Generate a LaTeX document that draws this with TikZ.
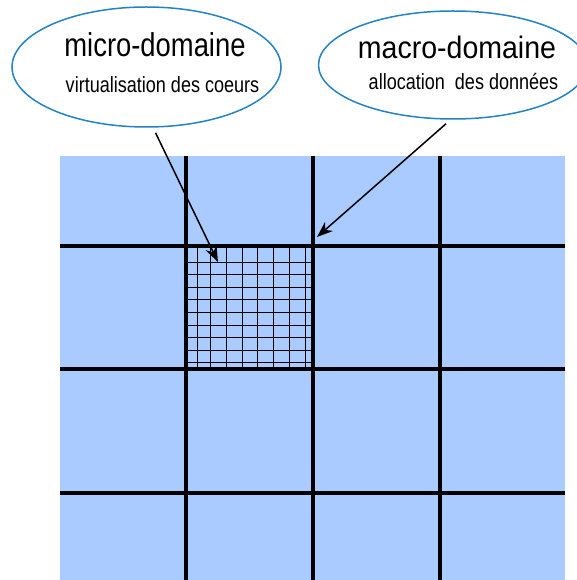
\documentclass[tikz,border=0pt]{standalone}
\usepackage{fontspec}
\setmainfont{Liberation Sans}
\newfontfamily\microfont[FakeStretch=0.83]{Liberation Sans}
\newfontfamily\macrofont[FakeStretch=0.92]{Liberation Sans}
\newfontfamily\notefont[FakeStretch=0.82]{Liberation Sans}
\usetikzlibrary{arrows.meta, positioning, shapes.geometric}
\definecolor{cplane}{HTML}{AACBFF}
\definecolor{cedge}{HTML}{2383C6}
\tikzset{
  every picture/.style={x=1pt, y=-1pt},
  bubble/.style={draw=cedge, line width=1.5pt, ellipse, inner sep=0pt},
  heading/.style={anchor=base, inner sep=0pt, font=#1},
  note/.style={anchor=base, inner sep=0pt, font=\notefont\fontsize{22}{22}\selectfont},
  bigline/.style={line width=3.5pt},
  fineline/.style={line width=0.8pt},
  arrow/.style={-{Stealth[length=16pt, width=12pt]}, line width=1.5pt},
}

\begin{document}
\begin{tikzpicture}
  \useasboundingbox (0,0) rectangle (577,580);
  % blue plane
  \fill[cplane] (60,156) rectangle (565,580);
  % fine grid in one cell
  \foreach \x in {197,210,226,242,257,273,289,305} \draw[fineline] (\x,246) -- (\x,369);
  \foreach \y in {262,274,287,299,312,325,337,350,362} \draw[fineline] (186,\y) -- (313,\y);
  % coarse grid
  \foreach \x in {186,313,440} \draw[bigline] (\x,156) -- (\x,580);
  \foreach \y in {246,369,493} \draw[bigline] (60,\y) -- (565,\y);
  % micro bubble
  \node[bubble, minimum width=269pt, minimum height=120pt] (micro) at (146.5,67) {};
  \node[heading=\microfont\fontsize{33}{33}\selectfont] (microtitle) at (155,57) {micro-domaine};
  \node[note] (micronote) at (162.5,93) {virtualisation des coeurs};
  % macro bubble
  \node[bubble, minimum width=269pt, minimum height=108pt] (macro) at (453,65) {};
  \node[heading=\macrofont\fontsize{31}{31}\selectfont] (macrotitle) at (457,59) {macro-domaine};
  \node[note] (macronote) at (463.5,90) {allocation\ \ des données};
  % arrows
  \coordinate (microtip) at (218,262);
  \coordinate (macrotip) at (317,237);
  \draw[arrow] ([shift={(9,5)}]micro.south) -- (microtip);
  \draw[arrow] ([shift={(-7,4)}]macro.south) -- (macrotip);
\end{tikzpicture}
\end{document}
